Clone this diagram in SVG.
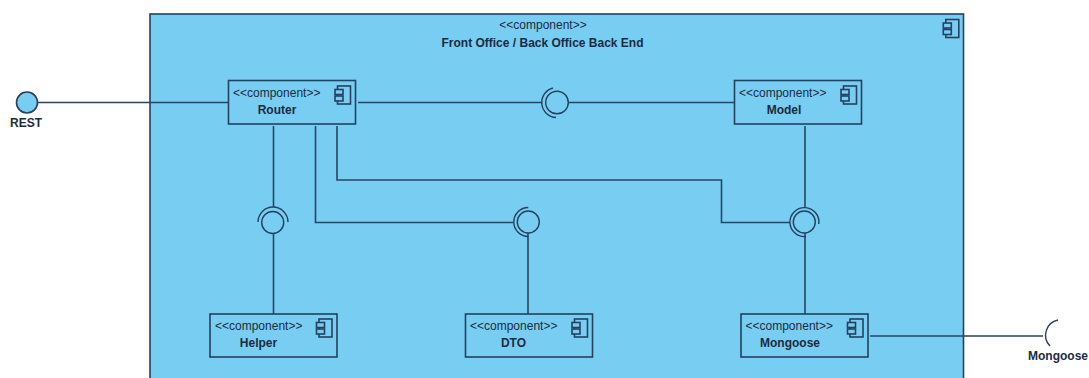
<svg xmlns="http://www.w3.org/2000/svg" width="1089" height="378" viewBox="0 0 1089 378">
<style>
text{font-family:"Liberation Sans",Arial,sans-serif;font-size:12px;fill:#1d2b3f}
.n{font-weight:bold;text-anchor:middle}
.b{fill:#78cdf3;stroke:#26405f;stroke-width:1.6}
.l{fill:none;stroke:#2b4463;stroke-width:1.6}
.a{fill:none;stroke:#26405f;stroke-width:1.4}
</style>
<defs>
<g id="ic"><rect class="b" x="2.500" y="0" width="13" height="18"/><rect class="b" x="0" y="3.500" width="8" height="5"/><rect class="b" x="0" y="10" width="8" height="5"/></g>
</defs>
<rect width="1089" height="378" fill="#fff"/>
<g id="front-office"><rect class="b" x="150" y="14" width="813.500" height="380"/>
<text x="543" y="29" text-anchor="middle">&lt;&lt;component&gt;&gt;</text>
<text class="n" x="542.500" y="47">Front Office / Back Office Back End</text>
<use href="#ic" x="943.300" y="19.500"/></g>
<g id="connectors">
<path class="l" d="M38 102.500H228M358 102.500H542M568 102.500H734M273.500 126V207M273.500 233V314M315.500 126V222.500H513M337 126V180H721.500V222.500H790M805 126V207M805 233V314M528 233V314M870 336H1043"/>
<path class="a" d="M553 88A15 15 0 0 0 556 117.500"/>
<path class="a" d="M258 222A15 15 0 0 1 288 222"/>
<path class="a" d="M528.300 207.500A14.500 14.500 0 0 0 528.300 236.500"/>
<path class="a" d="M818.800 224A14.500 14.500 0 1 0 806 236.500"/>
<path class="a" d="M1058 320A15.500 15.500 0 0 0 1050 346"/>
</g>
<g id="rest"><circle class="b" cx="27" cy="102.500" r="10.500"/><text class="n" x="26" y="126.500">REST</text></g>
<g id="mongoose-if"><text class="n" x="1058" y="360">Mongoose</text></g>
<g id="balls"><circle class="a" cx="557" cy="102.500" r="11.300"/><circle class="a" cx="272.700" cy="222.500" r="11"/><circle class="a" cx="528.300" cy="222" r="11"/><circle class="a" cx="804.300" cy="222" r="11"/></g>
<g id="router"><rect class="b" x="228.500" y="80.500" width="127" height="43.500"/><text x="233" y="97">&lt;&lt;component&gt;&gt;</text><text class="n" x="277" y="114">Router</text><use href="#ic" x="335" y="86"/></g>
<g id="model"><rect class="b" x="734.500" y="80.500" width="127" height="43.500"/><text x="739" y="97">&lt;&lt;component&gt;&gt;</text><text class="n" x="784" y="114">Model</text><use href="#ic" x="841" y="86"/></g>
<g id="helper"><rect class="b" x="210" y="314" width="127" height="43"/><text x="215" y="330">&lt;&lt;component&gt;&gt;</text><text class="n" x="258.500" y="347">Helper</text><use href="#ic" x="316.500" y="319"/></g>
<g id="dto"><rect class="b" x="465.500" y="314" width="127" height="43"/><text x="470" y="330">&lt;&lt;component&gt;&gt;</text><text class="n" x="513.500" y="347">DTO</text><use href="#ic" x="572" y="319"/></g>
<g id="mongoose"><rect class="b" x="741" y="314" width="127" height="43"/><text x="745.500" y="330">&lt;&lt;component&gt;&gt;</text><text class="n" x="790" y="347">Mongoose</text><use href="#ic" x="847.500" y="319"/></g>
</svg>
